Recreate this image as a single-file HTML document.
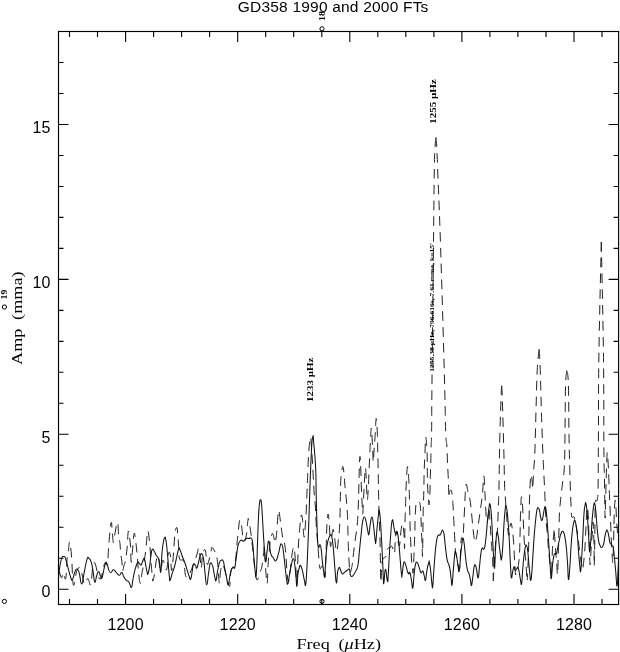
<!DOCTYPE html>
<html><head><meta charset="utf-8"><title>GD358 1990 and 2000 FTs</title>
<style>
html,body{margin:0;padding:0;background:#fff;}
body{width:620px;height:652px;overflow:hidden;font-family:"Liberation Sans",sans-serif;}
svg{display:block;}
.tl{font-family:"Liberation Sans",sans-serif;font-size:16px;fill:#000;letter-spacing:0.15px;}
.ttl{font-family:"Liberation Sans",sans-serif;font-size:15.5px;fill:#000;letter-spacing:0.2px;}
.ser{font-family:"Liberation Serif",serif;fill:#000;}
</style></head><body>
<svg width="620" height="652" viewBox="0 0 620 652">
<rect width="620" height="652" fill="#fff"/>
<!-- frame and ticks -->
<rect x="58.5" y="31.5" width="560.1" height="573.0" fill="none" stroke="#000" stroke-width="1.15"/>
<path d="M69.5,604.5 v-5.5 M69.5,31.5 v5.5 M97.5,604.5 v-5.5 M97.5,31.5 v5.5 M125.6,604.5 v-10.5 M125.6,31.5 v10.5 M153.6,604.5 v-5.5 M153.6,31.5 v5.5 M181.6,604.5 v-5.5 M181.6,31.5 v5.5 M209.6,604.5 v-5.5 M209.6,31.5 v5.5 M237.7,604.5 v-10.5 M237.7,31.5 v10.5 M265.7,604.5 v-5.5 M265.7,31.5 v5.5 M293.7,604.5 v-5.5 M293.7,31.5 v5.5 M321.8,604.5 v-5.5 M321.8,31.5 v5.5 M349.8,604.5 v-10.5 M349.8,31.5 v10.5 M377.8,604.5 v-5.5 M377.8,31.5 v5.5 M405.8,604.5 v-5.5 M405.8,31.5 v5.5 M433.9,604.5 v-5.5 M433.9,31.5 v5.5 M461.9,604.5 v-10.5 M461.9,31.5 v10.5 M489.9,604.5 v-5.5 M489.9,31.5 v5.5 M517.9,604.5 v-5.5 M517.9,31.5 v5.5 M546.0,604.5 v-5.5 M546.0,31.5 v5.5 M574.0,604.5 v-10.5 M574.0,31.5 v10.5 M602.0,604.5 v-5.5 M602.0,31.5 v5.5 M58.5,589.2 h10 M618.6,589.2 h-10 M58.5,558.2 h5 M618.6,558.2 h-5 M58.5,527.2 h5 M618.6,527.2 h-5 M58.5,496.3 h5 M618.6,496.3 h-5 M58.5,465.3 h5 M618.6,465.3 h-5 M58.5,434.3 h10 M618.6,434.3 h-10 M58.5,403.3 h5 M618.6,403.3 h-5 M58.5,372.3 h5 M618.6,372.3 h-5 M58.5,341.4 h5 M618.6,341.4 h-5 M58.5,310.4 h5 M618.6,310.4 h-5 M58.5,279.4 h10 M618.6,279.4 h-10 M58.5,248.4 h5 M618.6,248.4 h-5 M58.5,217.4 h5 M618.6,217.4 h-5 M58.5,186.5 h5 M618.6,186.5 h-5 M58.5,155.5 h5 M618.6,155.5 h-5 M58.5,124.5 h10 M618.6,124.5 h-10 M58.5,93.5 h5 M618.6,93.5 h-5 M58.5,62.5 h5 M618.6,62.5 h-5" stroke="#000" stroke-width="1.1" fill="none"/>
<!-- data: dashed = 2000 FT, solid = 1990 FT -->
<path d="M435.9,137.5 C435.8,139.0 435.5,139.5 435.2,145.0 C434.9,150.5 434.8,144.0 434.4,165.0 C434.0,186.0 433.9,207.0 433.4,250.0 C432.9,293.0 432.4,343.7 432.0,380.0 C431.6,416.3 431.8,418.3 431.6,431.5 C431.4,444.7 431.3,439.9 431.1,446.0 C430.9,452.1 431.0,455.7 430.8,462.0 C430.6,468.3 430.5,471.2 430.3,477.5 C430.1,483.8 430.1,489.1 429.9,493.6 C429.7,498.1 429.7,497.7 429.5,500.0 C429.3,502.3 429.2,505.1 429.0,505.0 C428.8,504.9 428.8,503.7 428.5,499.7 C428.2,495.7 427.8,491.1 427.6,485.0 C427.4,478.9 427.4,475.9 427.3,469.0 C427.2,462.1 427.3,457.1 427.0,450.7 C426.7,444.3 426.1,436.5 425.7,437.0 C425.3,437.5 425.3,446.4 425.0,453.0 C424.7,459.6 424.4,463.4 424.2,470.0 C424.0,476.6 424.0,479.6 423.9,486.0 C423.8,492.4 423.7,496.0 423.5,502.0 C423.3,508.0 423.2,508.4 423.1,516.0 C423.0,523.6 422.9,532.0 422.8,540.0 C422.7,548.0 422.6,554.2 422.5,556.0 C422.4,557.8 422.4,553.4 422.2,549.0 C422.0,544.6 421.9,540.6 421.6,534.0 C421.3,527.4 421.2,521.6 420.9,516.0 C420.6,510.4 420.6,508.7 420.3,506.0 C420.0,503.3 420.3,503.4 419.6,502.5 C418.9,501.6 417.6,500.8 416.8,501.5 C416.0,502.2 416.1,502.3 415.8,506.0 C415.5,509.7 415.3,513.8 415.1,520.0 C414.9,526.2 414.9,530.6 414.7,537.0 C414.5,543.4 414.4,545.0 414.1,552.0 C413.8,559.0 413.5,568.6 413.2,572.0 C412.9,575.4 412.8,571.4 412.5,569.0 C412.2,566.6 411.8,565.2 411.5,560.0 C411.2,554.8 411.1,549.6 410.8,543.0 C410.5,536.4 410.3,534.6 410.1,527.0 C409.9,519.4 409.8,512.4 409.6,505.0 C409.4,497.6 409.4,495.3 409.2,490.0 C409.0,484.7 409.1,483.0 408.7,478.4 C408.3,473.8 407.9,465.1 407.4,466.8 C406.9,468.5 406.5,479.7 406.1,487.0 C405.7,494.3 405.8,496.5 405.6,503.5 C405.4,510.5 405.2,513.1 405.0,522.0 C404.8,530.9 404.8,544.8 404.6,548.0 C404.4,551.2 404.4,542.0 404.2,538.0 C404.0,534.0 403.7,530.8 403.4,528.0 C403.1,525.2 402.9,524.0 402.5,523.8 C402.1,523.6 402.0,525.2 401.6,527.0 C401.2,528.8 401.0,530.4 400.7,533.0 C400.4,535.6 400.5,537.4 400.2,540.0 C399.9,542.6 399.7,546.0 399.2,546.0 C398.7,546.0 398.2,542.2 397.8,540.0 C397.4,537.8 397.5,536.8 397.2,535.0 C396.9,533.2 396.7,530.8 396.4,531.0 C396.1,531.2 395.9,533.2 395.6,536.0 C395.3,538.8 395.2,541.5 395.0,545.0 C394.8,548.5 394.8,552.7 394.4,553.5 C394.0,554.3 393.6,550.5 393.0,549.0 C392.4,547.5 392.1,546.2 391.5,546.0 C390.9,545.8 390.7,547.5 389.9,548.0 C389.1,548.5 388.3,547.6 387.7,548.5 C387.1,549.4 387.2,550.8 386.8,552.5 C386.4,554.2 386.3,555.6 385.5,557.0 C384.7,558.4 383.5,556.9 382.7,559.5 C381.9,562.1 381.9,565.5 381.6,570.0 C381.3,574.5 381.2,580.8 381.0,582.0 C380.8,583.2 380.7,580.4 380.6,576.0 C380.5,571.6 380.5,567.4 380.4,560.0 C380.3,552.6 380.2,547.0 380.0,539.0 C379.8,531.0 379.6,528.0 379.3,520.0 C379.0,512.0 378.9,506.4 378.7,499.0 C378.5,491.6 378.5,489.6 378.4,483.0 C378.3,476.4 378.2,472.6 378.1,466.0 C378.0,459.4 377.8,456.3 377.7,450.0 C377.6,443.7 377.7,440.8 377.4,434.5 C377.1,428.2 376.6,418.5 376.2,418.5 C375.8,418.5 375.6,428.6 375.2,434.5 C374.8,440.4 374.6,442.5 374.2,448.0 C373.8,453.5 373.6,461.2 373.3,462.0 C373.0,462.8 373.0,456.4 372.8,452.0 C372.6,447.6 372.5,444.8 372.2,440.0 C371.9,435.2 371.6,428.0 371.3,428.0 C371.0,428.0 370.9,433.6 370.5,440.0 C370.1,446.4 370.0,450.0 369.5,460.0 C369.0,470.0 368.7,482.0 368.2,490.0 C367.7,498.0 367.5,501.0 367.2,500.0 C366.9,499.0 366.8,491.4 366.5,485.0 C366.2,478.6 365.9,469.0 365.5,468.0 C365.1,467.0 364.9,473.6 364.5,480.0 C364.1,486.4 363.9,493.2 363.5,500.0 C363.1,506.8 363.0,513.0 362.7,514.0 C362.4,515.0 362.5,510.4 362.2,505.2 C361.9,500.0 361.7,495.0 361.4,488.0 C361.1,481.0 361.1,476.3 360.8,470.0 C360.5,463.7 360.3,456.7 360.0,456.4 C359.7,456.1 359.5,463.6 359.3,468.6 C359.1,473.6 359.2,474.2 359.0,481.5 C358.8,488.8 358.6,496.5 358.3,505.0 C358.0,513.5 358.0,516.3 357.3,524.0 C356.6,531.7 355.7,535.8 354.7,543.5 C353.7,551.2 353.1,557.7 352.5,562.6 C351.9,567.5 352.0,566.0 351.5,568.0 C351.0,570.0 350.6,573.2 350.2,572.6 C349.8,572.0 349.6,569.5 349.3,565.0 C349.0,560.5 348.8,556.1 348.5,550.0 C348.2,543.9 348.2,540.7 348.0,534.5 C347.8,528.3 347.9,525.2 347.6,519.0 C347.3,512.8 347.2,509.9 346.7,503.4 C346.2,496.9 345.5,492.3 345.0,486.6 C344.5,480.9 344.5,479.0 344.1,475.0 C343.7,471.0 343.4,466.3 342.8,466.6 C342.2,466.9 341.6,471.5 341.1,476.3 C340.6,481.1 340.8,481.2 340.5,490.5 C340.2,499.8 340.2,513.3 339.8,522.9 C339.4,532.5 339.1,532.7 338.5,538.4 C337.9,544.1 337.4,551.3 336.6,551.3 C335.8,551.3 335.4,542.8 334.7,538.4 C334.0,534.0 333.6,529.1 333.0,529.4 C332.4,529.7 332.0,536.7 331.5,540.0 C331.0,543.3 330.8,548.5 330.4,546.0 C330.0,543.5 329.9,533.8 329.5,527.4 C329.1,521.0 328.7,514.4 328.2,514.0 C327.7,513.6 327.3,519.6 326.9,525.5 C326.5,531.4 326.5,536.6 326.3,543.5 C326.1,550.4 326.1,553.3 325.8,560.0 C325.5,566.7 325.4,574.8 325.0,577.0 C324.6,579.2 324.3,573.2 323.7,571.0 C323.1,568.8 322.8,566.6 322.0,566.0 C321.2,565.4 320.5,570.9 319.8,568.0 C319.1,565.1 318.8,557.1 318.3,551.3 C317.8,545.5 317.8,545.3 317.3,539.0 C316.8,532.7 316.4,526.6 316.0,520.0 C315.6,513.4 315.7,511.9 315.3,506.0 C314.9,500.1 314.4,497.0 314.0,490.5 C313.6,484.0 313.5,480.7 313.1,473.7 C312.7,466.7 312.5,461.4 312.1,455.7 C311.7,450.0 311.6,448.7 311.3,445.0 C311.0,441.3 310.9,436.9 310.5,437.0 C310.1,437.1 309.8,440.4 309.3,445.4 C308.8,450.4 308.5,455.7 308.2,462.1 C307.9,468.5 307.9,471.1 307.6,477.6 C307.3,484.1 307.2,487.9 306.9,494.4 C306.6,500.9 306.6,503.9 306.3,509.9 C306.0,515.9 305.8,518.8 305.4,524.2 C305.0,529.6 304.7,538.1 304.1,537.1 C303.5,536.1 303.0,523.3 302.4,519.0 C301.8,514.7 301.6,514.0 301.1,515.8 C300.6,517.6 300.3,522.4 299.8,528.0 C299.3,533.6 299.1,533.4 298.5,544.0 C297.9,554.6 297.4,577.4 296.8,581.0 C296.2,584.6 296.1,568.7 295.5,562.0 C294.9,555.3 294.7,549.0 294.0,547.4 C293.3,545.8 292.8,549.9 292.1,554.0 C291.4,558.1 291.2,562.6 290.5,568.0 C289.8,573.4 289.4,579.0 288.8,581.0 C288.2,583.0 288.0,580.6 287.6,578.0 C287.2,575.4 287.1,573.0 286.7,568.0 C286.3,563.0 286.3,558.5 285.8,553.0 C285.3,547.5 284.6,543.6 284.0,540.4 C283.4,537.2 283.3,540.7 282.6,537.0 C281.9,533.3 281.1,526.4 280.5,522.0 C279.9,517.6 280.0,517.3 279.6,515.0 C279.2,512.7 279.1,510.0 278.7,510.4 C278.3,510.8 278.2,513.1 277.8,517.0 C277.4,520.9 277.2,526.0 276.9,530.0 C276.6,534.0 276.6,534.4 276.2,537.0 C275.8,539.6 275.4,542.8 275.0,543.0 C274.6,543.2 274.5,539.9 274.0,538.0 C273.5,536.1 273.1,533.7 272.5,533.5 C271.9,533.3 271.7,534.3 271.1,537.0 C270.5,539.7 270.2,541.3 269.6,547.0 C269.0,552.7 268.5,558.4 268.0,565.6 C267.5,572.8 267.6,586.3 266.9,583.0 C266.2,579.7 264.9,555.1 264.3,549.0 C263.7,542.9 264.2,549.0 263.7,552.5 C263.2,556.0 262.6,562.6 261.9,566.5 C261.2,570.4 261.0,569.3 260.0,572.0 C259.0,574.7 258.0,580.6 257.0,580.0 C256.0,579.4 255.7,574.4 254.9,569.1 C254.1,563.8 253.9,559.6 253.2,553.4 C252.5,547.2 252.1,543.2 251.5,538.0 C250.9,532.8 250.6,530.9 250.0,527.2 C249.4,523.5 248.9,520.8 248.5,519.5 C248.1,518.2 248.3,517.6 247.9,520.5 C247.5,523.4 247.2,530.0 246.5,534.1 C245.8,538.2 245.3,540.7 244.5,541.1 C243.7,541.5 243.2,538.7 242.7,535.9 C242.2,533.1 242.3,530.2 241.8,527.2 C241.3,524.2 240.6,522.1 240.1,521.0 C239.6,519.9 239.8,519.1 239.4,521.5 C239.0,523.9 238.6,528.1 238.1,533.0 C237.6,537.9 237.3,540.6 236.8,546.0 C236.3,551.4 236.2,556.0 235.5,560.0 C234.8,564.0 234.4,563.9 233.5,566.0 C232.6,568.1 231.8,566.6 231.0,570.6 C230.2,574.6 230.5,584.3 229.7,586.0 C228.9,587.7 228.4,583.2 227.1,579.0 C225.8,574.8 224.3,566.7 223.0,565.0 C221.7,563.3 221.3,566.9 220.6,570.6 C219.9,574.3 219.9,584.0 219.4,583.5 C218.9,583.0 218.6,573.4 218.1,568.0 C217.6,562.6 217.3,559.6 216.8,556.5 C216.3,553.4 216.5,554.4 215.5,552.6 C214.5,550.8 212.7,547.5 211.8,547.4 C210.9,547.3 211.6,549.5 211.0,552.0 C210.4,554.5 209.8,557.6 209.0,560.0 C208.2,562.4 207.9,566.0 207.1,564.0 C206.3,562.0 206.1,551.8 205.2,550.0 C204.3,548.2 203.4,551.4 202.6,555.0 C201.8,558.6 201.8,567.8 201.3,568.0 C200.8,568.2 200.5,560.0 200.0,556.0 C199.5,552.0 199.3,548.2 198.7,548.0 C198.1,547.8 197.8,551.8 196.8,555.0 C195.8,558.2 195.1,560.0 193.5,564.0 C191.9,568.0 190.4,572.4 189.0,575.0 C187.6,577.6 187.3,577.2 186.5,577.0 C185.7,576.8 185.8,577.2 185.2,574.0 C184.6,570.8 184.6,564.0 183.5,561.0 C182.4,558.0 180.6,561.8 179.6,559.0 C178.6,556.2 179.1,551.9 178.7,547.0 C178.3,542.1 178.2,538.4 177.8,534.5 C177.4,530.6 177.2,527.1 176.6,527.4 C176.0,527.7 175.5,529.3 174.8,535.8 C174.1,542.3 173.6,553.0 173.0,560.0 C172.4,567.0 172.1,571.6 171.6,570.6 C171.1,569.6 170.9,558.3 170.3,555.0 C169.7,551.7 169.2,550.9 168.4,553.9 C167.6,556.9 167.6,568.8 166.5,570.0 C165.4,571.2 164.2,560.0 163.0,560.0 C161.8,560.0 161.6,570.8 160.6,570.0 C159.6,569.2 158.9,557.7 158.0,556.0 C157.1,554.3 156.7,558.4 156.1,561.6 C155.5,564.8 155.4,568.1 154.8,572.0 C154.2,575.9 153.4,580.2 152.9,581.0 C152.4,581.8 152.7,579.8 152.3,576.0 C151.9,572.2 151.5,568.4 151.0,562.0 C150.5,555.6 150.3,550.1 149.7,544.0 C149.1,537.9 148.6,532.9 148.1,531.3 C147.6,529.7 147.6,532.1 147.1,535.8 C146.6,539.5 146.5,544.2 145.8,550.0 C145.1,555.8 144.4,559.8 143.5,565.0 C142.6,570.2 142.1,572.1 141.5,575.8 C140.9,579.5 140.9,583.9 140.3,583.5 C139.7,583.1 139.3,579.1 138.7,574.0 C138.1,568.9 138.0,564.2 137.4,558.0 C136.8,551.8 136.6,547.9 135.9,543.0 C135.2,538.1 134.8,531.6 134.1,533.5 C133.4,535.4 132.9,546.9 132.3,552.6 C131.7,558.3 131.6,563.7 131.2,562.0 C130.8,560.3 130.9,550.2 130.3,544.0 C129.7,537.8 129.0,530.2 128.4,531.0 C127.8,531.8 127.7,541.9 127.1,548.0 C126.5,554.1 125.9,558.0 125.2,561.6 C124.5,565.2 124.3,564.1 123.8,566.0 C123.3,567.9 123.0,571.9 122.6,571.0 C122.2,570.1 122.3,565.3 121.9,561.6 C121.5,557.9 121.0,556.2 120.6,552.6 C120.2,549.0 120.4,546.6 120.0,543.5 C119.6,540.4 119.2,541.3 118.7,537.1 C118.2,532.9 118.3,523.6 117.6,522.4 C116.9,521.2 116.2,527.0 115.4,531.0 C114.6,535.0 114.1,542.3 113.5,542.5 C112.9,542.7 112.8,536.0 112.3,532.0 C111.8,528.0 111.8,521.4 111.2,522.4 C110.6,523.4 110.1,530.8 109.5,536.8 C108.9,542.8 108.7,546.7 108.3,552.3 C107.9,557.9 108.3,562.9 107.6,565.0 C106.9,567.1 105.9,561.6 105.0,562.6 C104.1,563.6 103.9,566.7 103.0,570.0 C102.1,573.3 101.5,578.0 100.5,579.0 C99.5,580.0 99.0,577.8 98.0,575.0 C97.0,572.2 96.5,567.7 95.7,565.2 C94.9,562.7 94.8,562.7 94.2,562.7 C93.6,562.7 93.3,562.4 92.8,565.2 C92.3,568.0 92.3,572.8 91.8,576.8 C91.3,580.8 91.0,584.2 90.4,585.0 C89.8,585.8 89.5,582.0 88.9,580.7 C88.3,579.4 88.4,578.0 87.5,578.7 C86.6,579.4 85.6,584.4 84.6,584.0 C83.6,583.6 83.5,580.0 82.6,576.8 C81.7,573.6 81.4,569.2 80.2,568.0 C79.0,566.8 78.2,567.6 76.8,571.0 C75.4,574.4 74.5,588.0 73.4,585.0 C72.3,582.0 72.3,564.6 71.5,556.0 C70.7,547.4 70.3,542.0 69.6,541.9 C68.9,541.8 68.6,552.0 68.1,555.5 C67.6,559.0 67.6,554.8 67.1,559.4 C66.6,564.0 66.5,576.0 65.7,578.7 C64.9,581.4 64.1,573.1 63.3,572.9 C62.5,572.7 62.4,577.4 61.8,577.8 C61.2,578.2 60.9,576.8 60.3,575.0 C59.7,573.2 59.2,570.2 58.9,569.0" fill="none" stroke="#222" stroke-width="1" stroke-dasharray="9.6 6.2" stroke-linejoin="round"/>
<path d="M435.9,137.5 C436.0,139.0 436.3,139.5 436.6,145.0 C436.9,150.5 436.7,144.0 437.5,165.0 C438.3,186.0 439.3,207.0 440.7,250.0 C442.1,293.0 443.5,343.6 444.5,380.0 C445.5,416.4 445.2,418.8 445.7,432.0 C446.2,445.2 446.5,439.8 446.9,446.0 C447.3,452.2 447.2,456.5 447.5,463.0 C447.8,469.5 448.0,471.5 448.3,478.3 C448.6,485.1 448.6,494.5 448.9,497.0 C449.2,499.5 449.3,492.2 449.8,491.0 C450.3,489.8 451.0,489.8 451.5,491.0 C452.0,492.2 452.0,494.2 452.3,497.0 C452.6,499.8 452.7,500.3 453.0,505.0 C453.3,509.7 453.5,514.3 453.8,520.4 C454.1,526.5 454.3,529.7 454.6,535.6 C454.9,541.5 455.1,546.1 455.4,550.0 C455.7,553.9 455.9,552.8 456.3,555.0 C456.7,557.2 457.0,558.6 457.5,561.0 C458.0,563.4 458.2,565.4 458.6,567.0 C459.0,568.6 459.1,569.6 459.4,569.0 C459.7,568.4 459.8,567.2 460.0,564.0 C460.2,560.8 460.3,557.2 460.5,553.0 C460.7,548.8 460.7,546.1 460.9,543.0 C461.1,539.9 461.4,538.1 461.7,537.5 C462.0,536.9 462.3,540.3 462.6,540.0 C462.9,539.7 463.0,539.2 463.2,536.0 C463.4,532.8 463.5,530.6 463.8,524.0 C464.1,517.4 464.5,509.8 464.8,503.0 C465.1,496.2 465.2,493.8 465.5,490.0 C465.8,486.2 465.8,483.6 466.3,484.0 C466.8,484.4 467.3,489.1 468.0,492.0 C468.7,494.9 469.1,494.2 469.8,498.4 C470.5,502.6 470.8,506.4 471.5,512.8 C472.2,519.2 472.5,524.8 473.2,530.5 C473.9,536.2 474.2,540.1 474.9,541.5 C475.6,542.9 475.8,540.5 476.5,537.3 C477.2,534.1 477.4,531.0 478.2,525.4 C479.0,519.8 479.6,515.5 480.4,509.4 C481.2,503.3 481.7,501.7 482.4,495.0 C483.1,488.3 483.3,477.0 483.8,476.0 C484.3,475.0 484.5,484.4 484.8,490.0 C485.1,495.6 485.1,497.6 485.5,504.0 C485.9,510.4 486.1,519.6 486.7,522.0 C487.3,524.4 487.9,518.5 488.4,516.0 C488.9,513.5 488.7,505.5 489.2,509.4 C489.7,513.3 490.3,527.5 490.9,535.6 C491.5,543.7 491.6,544.5 492.0,550.0 C492.4,555.5 492.5,556.8 492.8,563.0 C493.1,569.2 493.2,577.4 493.3,581.0" fill="none" stroke="#222" stroke-width="1" stroke-dasharray="9.6 6.2" stroke-linejoin="round"/>
<path d="M501.8,386.0 C501.7,387.2 501.7,382.3 501.3,392.0 C500.9,401.7 500.4,415.6 499.9,434.4 C499.4,453.2 499.3,472.3 499.0,486.0 C498.7,499.7 498.8,493.8 498.5,503.0 C498.2,512.2 497.7,525.9 497.3,532.2 C496.9,538.5 496.7,531.1 496.3,534.7 C495.9,538.3 495.5,544.3 495.1,550.0 C494.7,555.7 494.6,557.2 494.2,563.4 C493.8,569.6 493.5,577.5 493.3,581.0" fill="none" stroke="#222" stroke-width="1" stroke-dasharray="9.6 6.2" stroke-linejoin="round"/>
<path d="M501.8,386.0 C501.9,388.6 501.9,387.0 502.3,399.0 C502.7,411.0 503.2,428.6 503.7,446.0 C504.2,463.4 504.3,476.0 504.6,486.0 C504.9,496.0 504.8,490.5 505.2,496.0 C505.6,501.5 506.0,507.0 506.5,513.6 C507.0,520.2 507.2,524.5 507.7,528.8 C508.2,533.1 508.4,536.0 509.0,535.0 C509.6,534.0 509.9,525.7 510.5,524.0 C511.1,522.3 511.3,522.6 511.9,526.3 C512.5,530.0 513.1,535.7 513.6,542.3 C514.1,548.9 514.1,552.9 514.5,559.2 C514.9,565.5 515.1,571.4 515.5,574.0 C515.9,576.6 516.0,572.9 516.5,572.0 C517.0,571.1 517.2,572.9 517.8,569.3 C518.4,565.7 519.1,560.6 519.5,554.0 C519.9,547.4 519.8,543.6 520.0,536.4 C520.2,529.2 520.2,524.7 520.4,517.8 C520.6,510.9 520.8,506.0 521.0,501.8 C521.2,497.6 521.3,496.9 521.5,496.7 C521.7,496.5 521.9,497.9 522.2,501.0 C522.5,504.1 522.6,505.8 522.9,512.0 C523.2,518.2 523.4,524.4 523.8,532.0 C524.2,539.6 524.4,544.4 524.8,550.0 C525.2,555.6 525.3,555.0 525.7,560.0 C526.1,565.0 526.4,571.0 526.7,575.0 C527.0,579.0 527.2,579.0 527.3,580.0" fill="none" stroke="#222" stroke-width="1" stroke-dasharray="9.6 6.2" stroke-linejoin="round"/>
<path d="M539.1,349.4 C538.7,353.7 537.8,358.4 537.2,370.7 C536.6,383.0 536.5,394.3 536.0,410.8 C535.5,427.3 535.3,441.5 534.8,453.3 C534.3,465.1 534.0,464.7 533.7,470.0 C533.4,475.3 533.4,476.2 533.2,480.0 C533.0,483.8 533.0,488.6 532.8,489.0 C532.6,489.4 532.5,484.8 532.2,482.0 C531.9,479.2 531.6,475.2 531.2,475.0 C530.8,474.8 530.6,476.0 530.3,481.0 C530.0,486.0 529.8,491.0 529.5,500.0 C529.2,509.0 529.2,516.4 529.0,526.0 C528.8,535.6 528.8,540.2 528.6,548.0 C528.4,555.8 528.3,558.6 528.0,565.0 C527.7,571.4 527.4,577.0 527.3,580.0" fill="none" stroke="#222" stroke-width="1" stroke-dasharray="9.6 6.2" stroke-linejoin="round"/>
<path d="M539.1,349.4 C539.3,352.2 539.5,351.3 540.0,363.6 C540.5,375.9 540.8,391.9 541.4,410.8 C542.0,429.7 542.4,442.0 543.1,458.0 C543.8,474.0 544.2,479.5 544.7,491.0 C545.2,502.5 545.2,506.6 545.7,515.3 C546.2,524.0 546.9,528.6 547.4,534.7 C547.9,540.8 547.7,540.1 548.2,545.7 C548.7,551.3 549.2,556.9 549.9,562.6 C550.6,568.3 551.3,572.0 551.6,574.4" fill="none" stroke="#222" stroke-width="1" stroke-dasharray="9.6 6.2" stroke-linejoin="round"/>
<path d="M566.7,370.7 C566.5,374.0 565.8,374.3 565.5,387.0 C565.2,399.7 565.2,418.3 565.0,434.4 C564.8,450.5 564.8,458.0 564.3,467.4 C563.8,476.8 563.4,475.7 562.7,481.6 C562.0,487.5 561.5,490.8 560.9,497.0 C560.3,503.2 559.9,505.6 559.5,512.8 C559.1,520.0 559.1,525.2 558.9,533.0 C558.7,540.8 558.7,543.3 558.4,551.6 C558.1,559.9 557.8,572.4 557.5,574.4 C557.2,576.4 557.0,565.9 556.7,561.7 C556.4,557.5 556.1,557.3 555.8,553.3 C555.5,549.3 555.3,546.4 555.0,541.5 C554.7,536.6 554.3,530.3 554.1,528.8 C553.9,527.3 554.1,529.5 553.8,533.9 C553.5,538.3 552.8,542.7 552.4,550.8 C552.0,558.9 551.8,569.7 551.6,574.4" fill="none" stroke="#222" stroke-width="1" stroke-dasharray="9.6 6.2" stroke-linejoin="round"/>
<path d="M566.7,370.7 C567.0,373.1 567.8,369.8 568.3,382.5 C568.8,395.2 568.7,416.9 569.0,434.4 C569.3,451.9 569.4,455.9 569.8,470.0 C570.2,484.1 570.6,495.6 571.0,505.0 C571.4,514.4 571.2,514.4 571.9,517.0 C572.6,519.6 573.2,514.2 574.4,517.9 C575.6,521.6 576.8,529.0 577.8,535.6 C578.8,542.2 578.8,545.4 579.5,550.8 C580.2,556.2 580.5,559.2 581.2,562.6 C581.9,566.0 582.6,566.9 583.0,568.0" fill="none" stroke="#222" stroke-width="1" stroke-dasharray="9.6 6.2" stroke-linejoin="round"/>
<path d="M601.3,242.0 C600.8,264.6 599.5,315.4 598.9,355.0 C598.3,394.6 598.6,414.0 598.4,440.0 C598.2,466.0 598.3,473.0 598.1,485.0 C597.9,497.0 597.8,496.2 597.2,500.0 C596.6,503.8 595.8,496.0 595.3,504.0 C594.8,512.0 595.0,527.6 594.8,540.0 C594.6,552.4 594.3,564.4 594.2,566.0 C594.1,567.6 594.2,554.2 594.1,548.0 C594.0,541.8 593.9,540.2 593.7,535.0 C593.5,529.8 593.3,522.4 593.0,522.0 C592.7,521.6 592.6,528.4 592.3,533.0 C592.0,537.6 591.7,538.7 591.3,545.0 C590.9,551.3 590.5,562.3 590.2,564.3 C589.9,566.3 589.9,561.6 589.6,555.0 C589.3,548.4 589.1,540.0 588.8,531.4 C588.5,522.8 588.4,516.7 588.0,512.0 C587.6,507.3 587.4,506.0 587.0,508.0 C586.6,510.0 586.5,515.8 586.2,522.0 C585.9,528.2 585.7,532.6 585.4,539.0 C585.1,545.4 585.0,548.2 584.5,554.0 C584.0,559.8 583.3,565.2 583.0,568.0" fill="none" stroke="#222" stroke-width="1" stroke-dasharray="9.6 6.2" stroke-linejoin="round"/>
<path d="M601.3,242.0 C601.7,265.1 603.0,316.3 603.5,357.5 C604.0,398.7 603.7,423.3 603.9,448.0 C604.1,472.7 604.3,469.6 604.5,481.0 C604.7,492.4 604.7,497.6 604.8,505.0 C604.9,512.4 605.0,519.0 605.2,518.0 C605.4,517.0 605.4,506.6 605.6,500.0 C605.8,493.4 605.8,491.0 606.0,485.0 C606.2,479.0 606.3,476.4 606.5,470.0 C606.7,463.6 606.9,454.7 607.2,452.9 C607.5,451.1 607.7,456.1 608.0,461.0 C608.3,465.9 608.5,470.9 608.8,477.4 C609.1,483.9 609.1,486.9 609.4,493.4 C609.7,499.9 609.8,503.7 610.1,510.0 C610.4,516.3 610.4,518.9 610.7,525.0 C611.0,531.1 611.1,534.4 611.4,540.6 C611.7,546.8 611.9,551.7 612.2,556.0 C612.5,560.3 612.6,564.2 612.9,562.0 C613.2,559.8 613.2,554.2 613.5,545.0 C613.8,535.8 613.9,524.8 614.2,516.0 C614.5,507.2 614.7,503.2 615.0,501.0 C615.3,498.8 615.5,501.4 615.8,505.0 C616.1,508.6 616.2,513.6 616.5,519.0 C616.8,524.4 617.1,527.8 617.5,532.0 C617.9,536.2 618.1,538.4 618.3,540.0" fill="none" stroke="#222" stroke-width="1" stroke-dasharray="9.6 6.2" stroke-linejoin="round"/>
<path d="M58.4,578.7 C59.0,574.1 59.3,567.2 60.8,561.3 C62.3,555.4 62.7,556.2 64.2,556.5 C65.7,556.8 64.9,556.9 66.6,562.3 C68.3,567.7 68.9,572.3 70.5,576.8 C72.1,581.3 71.3,580.5 72.5,579.2 C73.7,577.9 73.8,574.7 74.9,572.0 C76.0,569.3 75.7,568.8 76.8,569.0 C77.9,569.2 77.9,568.9 79.2,572.9 C80.5,576.9 80.4,584.0 81.7,584.0 C83.0,584.0 82.7,579.5 84.1,572.9 C85.5,566.3 85.7,563.3 87.0,559.4 C88.3,555.5 87.8,557.6 88.9,558.4 C90.0,559.2 90.1,558.4 91.3,562.3 C92.5,566.2 92.4,567.6 93.3,572.9 C94.2,578.2 93.8,581.3 94.7,582.1 C95.6,582.9 95.7,578.6 96.7,575.8 C97.7,573.0 97.6,571.5 98.6,571.5 C99.6,571.5 99.6,574.1 100.5,575.8 C101.4,577.5 101.1,579.5 102.0,577.8 C102.9,576.1 102.9,573.4 103.9,569.4 C104.9,565.4 104.9,564.3 105.8,562.9 C106.7,561.5 106.2,562.1 107.1,564.2 C108.0,566.3 108.0,568.4 109.0,570.6 C110.0,572.8 110.0,572.8 111.0,572.6 C112.0,572.4 111.9,570.5 112.9,570.0 C113.9,569.5 113.8,569.7 114.8,570.6 C115.8,571.5 115.6,572.0 116.8,573.2 C118.0,574.4 118.0,575.4 119.4,575.2 C120.8,575.0 120.7,572.1 121.9,572.6 C123.1,573.1 122.7,575.0 123.9,577.1 C125.1,579.2 125.1,578.9 126.5,580.3 C127.9,581.7 127.7,580.4 129.0,582.3 C130.3,584.2 130.4,588.1 131.4,587.4 C132.4,586.7 132.0,584.2 132.9,579.7 C133.8,575.2 133.6,575.1 134.8,570.6 C136.0,566.1 136.2,564.8 137.4,562.9 C138.6,561.0 138.4,563.0 139.4,563.5 C140.4,564.0 140.3,565.8 141.3,564.8 C142.3,563.8 142.3,561.2 143.2,559.7 C144.1,558.2 143.8,557.5 144.5,559.0 C145.2,560.5 145.1,562.1 145.8,565.5 C146.5,568.9 146.5,569.7 147.1,571.9 C147.7,574.1 147.3,575.6 148.0,573.9 C148.7,572.2 148.9,570.5 149.7,565.5 C150.5,560.5 150.3,559.5 151.0,555.2 C151.7,550.9 151.4,550.4 152.3,549.4 C153.2,548.4 153.2,549.8 154.2,551.3 C155.2,552.8 155.1,553.5 156.1,555.2 C157.1,556.9 157.2,556.0 158.1,557.7 C159.0,559.4 158.7,557.8 159.4,561.6 C160.1,565.4 160.1,574.1 160.8,572.0 C161.5,569.9 161.3,561.5 161.9,553.9 C162.5,546.3 162.5,547.8 163.2,543.5 C163.9,539.2 163.8,538.7 164.5,537.7 C165.2,536.7 165.1,536.4 165.8,539.7 C166.5,543.0 166.4,543.1 167.1,550.0 C167.8,556.9 167.8,558.3 168.4,565.5 C169.0,572.7 168.9,573.1 169.4,577.0 C169.9,580.9 169.3,581.3 170.1,580.3 C170.9,579.3 171.0,577.1 172.3,573.2 C173.6,569.3 173.6,570.0 174.8,565.5 C176.0,561.0 175.8,561.0 176.8,556.5 C177.8,552.0 177.8,550.4 178.7,548.7 C179.6,547.0 179.1,548.3 180.0,550.0 C180.9,551.7 180.9,552.5 181.9,555.2 C182.9,557.9 182.9,557.6 183.9,560.3 C184.9,563.0 184.8,562.4 185.8,565.5 C186.8,568.6 186.8,569.2 187.7,571.9 C188.6,574.6 188.2,573.9 189.0,575.8 C189.8,577.7 189.8,580.4 190.7,579.0 C191.6,577.6 191.6,574.5 192.3,570.6 C193.0,566.7 192.6,565.6 193.5,564.2 C194.4,562.8 194.6,564.5 195.5,565.5 C196.4,566.5 195.9,569.1 196.8,568.1 C197.7,567.1 197.7,565.2 198.7,561.6 C199.7,558.0 199.6,556.2 200.6,554.5 C201.6,552.8 201.7,553.3 202.6,555.2 C203.5,557.1 203.2,556.5 203.9,561.6 C204.6,566.7 204.5,568.3 205.2,574.5 C205.9,580.7 205.8,584.8 206.7,584.8 C207.6,584.8 207.6,579.6 208.4,574.5 C209.2,569.4 209.0,568.6 209.7,565.5 C210.4,562.4 210.1,562.6 211.0,562.9 C211.9,563.2 211.9,563.0 212.9,566.8 C213.9,570.6 213.9,573.5 214.8,577.1 C215.7,580.7 215.4,581.7 216.1,580.3 C216.8,578.9 216.5,576.5 217.4,571.9 C218.3,567.3 218.4,566.0 219.4,562.9 C220.4,559.8 220.3,560.8 221.3,560.3 C222.3,559.8 222.3,559.3 223.2,561.0 C224.1,562.7 223.6,562.5 224.5,566.8 C225.4,571.1 225.5,572.4 226.5,577.1 C227.5,581.8 227.3,585.7 228.4,584.5 C229.5,583.3 229.2,577.2 230.5,572.6 C231.8,568.0 232.0,568.7 233.1,567.3 C234.2,565.9 233.9,570.6 234.8,567.3 C235.7,564.0 235.7,561.2 236.6,555.1 C237.5,549.0 237.1,548.5 238.3,544.6 C239.5,540.7 239.6,541.2 241.0,540.3 C242.4,539.4 242.2,541.6 243.6,541.1 C245.0,540.6 244.8,539.2 246.2,538.5 C247.6,537.8 247.4,538.5 248.8,538.5 C250.2,538.5 250.3,536.9 251.4,538.5 C252.5,540.1 252.1,538.8 252.8,544.6 C253.5,550.4 253.4,552.8 254.1,560.3 C254.8,567.8 254.8,568.4 255.3,572.6 C255.8,576.8 255.6,578.0 256.0,576.0 C256.4,574.0 256.4,574.6 256.8,565.0 C257.2,555.4 257.1,553.3 257.6,540.0 C258.1,526.7 258.1,524.9 258.6,515.0 C259.1,505.1 259.1,507.0 259.6,503.0 C260.1,499.0 260.0,500.0 260.5,500.0 C261.0,500.0 260.9,499.0 261.4,503.0 C261.9,507.0 261.8,507.2 262.3,515.0 C262.8,522.8 262.7,523.1 263.3,532.4 C263.9,541.7 263.8,542.0 264.5,549.9 C265.2,557.8 265.1,562.1 265.8,562.1 C266.5,562.1 266.4,555.5 267.2,549.9 C268.0,544.3 268.0,540.2 268.9,541.1 C269.8,542.0 269.5,549.0 270.7,553.4 C271.9,557.8 271.9,555.8 273.3,557.7 C274.7,559.6 274.5,561.8 275.9,560.7 C277.3,559.6 277.3,557.5 278.5,553.4 C279.7,549.3 279.5,547.9 280.3,545.5 C281.1,543.1 280.8,543.6 281.5,544.3 C282.2,545.0 282.1,543.4 282.9,548.1 C283.7,552.8 283.7,554.2 284.6,562.1 C285.5,570.0 285.5,572.0 286.4,577.8 C287.3,583.6 287.0,584.9 287.8,584.0 C288.6,583.1 288.5,579.8 289.5,574.5 C290.5,569.2 290.5,568.5 291.5,564.2 C292.5,559.9 292.5,558.4 293.4,558.4 C294.3,558.4 294.0,559.2 294.7,564.2 C295.4,569.2 295.4,571.3 296.0,577.1 C296.6,582.9 296.4,586.8 296.9,586.1 C297.4,585.4 297.3,579.3 297.9,574.5 C298.5,569.7 298.5,570.5 299.2,568.1 C299.9,565.7 299.6,564.8 300.5,565.5 C301.4,566.2 301.4,566.7 302.4,570.6 C303.4,574.5 303.5,576.5 304.4,580.3 C305.3,584.1 305.0,587.0 305.6,584.8 C306.2,582.6 306.2,579.8 306.7,571.9 C307.2,564.0 307.1,564.8 307.5,555.2 C307.9,545.6 307.8,547.9 308.3,535.8 C308.8,523.7 308.7,525.4 309.2,510.0 C309.7,494.6 309.6,495.1 310.3,478.0 C311.0,460.9 311.0,457.0 311.7,446.0 C312.4,435.0 312.4,438.0 312.9,436.8 C313.4,435.6 312.9,433.4 313.6,441.5 C314.3,449.6 314.9,452.7 315.6,467.0 C316.3,481.3 315.9,482.2 316.2,495.0 C316.5,507.8 316.4,504.1 316.7,515.0 C317.0,525.9 317.0,527.2 317.4,535.8 C317.8,544.4 317.7,545.0 318.3,547.4 C318.9,549.8 319.1,544.5 319.8,544.8 C320.5,545.1 320.4,544.2 321.1,548.7 C321.8,553.2 321.7,555.4 322.4,561.6 C323.1,567.8 323.1,567.8 323.7,571.9 C324.3,576.0 324.3,578.1 324.7,577.1 C325.1,576.1 324.9,574.6 325.3,568.1 C325.7,561.6 325.7,559.5 326.3,552.6 C326.9,545.7 326.7,546.6 327.6,542.3 C328.5,538.0 328.5,538.4 329.5,536.5 C330.5,534.6 330.4,534.0 331.2,535.2 C332.0,536.4 331.8,536.0 332.5,541.0 C333.2,546.0 333.1,546.0 333.8,553.9 C334.5,561.8 334.4,562.9 335.1,570.6 C335.8,578.3 335.7,582.6 336.4,582.9 C337.1,583.2 336.9,576.0 337.6,571.9 C338.3,567.8 338.4,567.7 339.2,567.4 C340.0,567.1 339.8,568.9 340.7,570.6 C341.6,572.3 341.3,573.6 342.4,573.9 C343.5,574.2 343.6,572.9 345.0,571.9 C346.4,570.9 346.4,570.7 347.6,570.0 C348.8,569.3 348.8,568.2 349.5,569.4 C350.2,570.6 349.7,572.6 350.2,574.5 C350.7,576.4 350.6,576.3 351.5,576.5 C352.4,576.7 352.2,576.8 353.4,575.2 C354.6,573.6 354.8,573.2 356.0,570.6 C357.2,568.0 357.0,570.4 357.9,565.5 C358.8,560.6 358.5,560.4 359.3,552.4 C360.1,544.4 360.1,543.9 361.0,535.6 C361.9,527.3 361.8,526.2 362.7,521.2 C363.6,516.2 363.4,517.0 364.3,517.0 C365.2,517.0 365.1,517.6 366.0,521.2 C366.9,524.8 366.9,527.0 367.7,530.5 C368.5,534.0 368.2,536.0 368.9,534.2 C369.6,532.4 369.5,528.4 370.3,523.8 C371.1,519.2 371.1,517.0 371.9,517.0 C372.7,517.0 372.5,518.0 373.3,523.8 C374.1,529.6 374.3,534.0 375.0,538.9 C375.7,543.8 375.3,545.0 375.8,542.3 C376.3,539.6 376.3,536.0 377.0,528.8 C377.7,521.6 377.8,520.2 378.4,515.3 C379.0,510.4 378.7,508.9 379.2,510.3 C379.7,511.7 379.8,512.3 380.4,520.4 C381.0,528.5 381.0,529.8 381.6,540.6 C382.2,551.4 382.1,551.0 382.6,560.9 C383.1,570.8 383.0,572.0 383.3,577.8 C383.6,583.6 383.3,585.1 383.9,582.8 C384.5,580.5 384.5,569.8 385.4,569.3 C386.3,568.8 386.7,579.6 387.4,581.1 C388.1,582.6 387.7,581.3 388.2,575.0 C388.7,568.7 388.6,567.6 389.2,557.5 C389.8,547.4 389.7,547.2 390.5,537.3 C391.3,527.4 391.3,523.1 392.2,520.4 C393.1,517.7 393.0,523.5 393.9,527.1 C394.8,530.7 394.7,532.5 395.6,533.9 C396.5,535.3 396.4,529.5 397.3,532.2 C398.2,534.9 398.1,536.3 398.9,544.0 C399.7,551.7 399.6,552.8 400.3,560.9 C401.0,569.0 401.0,570.6 401.5,574.4 C402.0,578.2 401.5,577.6 402.0,575.3 C402.5,573.0 402.6,569.5 403.2,565.9 C403.8,562.3 403.6,561.7 404.3,561.7 C405.0,561.7 405.0,562.8 406.0,565.9 C407.0,569.0 407.2,571.7 408.2,573.5 C409.2,575.3 409.0,570.7 409.9,572.7 C410.8,574.7 410.8,577.0 411.6,581.1 C412.4,585.2 412.1,589.7 412.8,587.9 C413.5,586.1 413.4,580.7 414.1,574.4 C414.8,568.1 414.7,567.4 415.5,564.3 C416.3,561.2 416.2,561.7 417.2,562.6 C418.2,563.5 418.2,564.9 419.2,567.6 C420.2,570.3 419.9,571.8 420.9,572.7 C421.9,573.6 422.0,570.1 422.9,571.0 C423.8,571.9 423.6,573.7 424.3,576.1 C425.0,578.5 424.9,581.8 425.6,580.0 C426.3,578.2 426.2,573.9 427.1,569.3 C428.0,564.7 428.2,564.6 428.8,562.6 C429.4,560.6 428.8,560.1 429.3,561.9 C429.8,563.7 429.8,563.7 430.5,569.3 C431.2,574.9 431.2,578.2 431.8,582.8 C432.4,587.4 432.2,589.6 432.7,586.5 C433.2,583.4 433.1,580.1 433.8,571.0 C434.5,561.9 434.4,561.0 435.2,552.4 C436.0,543.8 436.0,543.5 436.9,538.9 C437.8,534.3 437.7,536.3 438.6,535.2 C439.5,534.1 439.4,535.9 440.3,534.7 C441.2,533.5 441.3,531.9 441.9,530.8 C442.5,529.7 441.9,529.7 442.5,530.5 C443.1,531.3 443.3,529.8 444.0,533.9 C444.7,538.0 444.5,539.0 445.3,545.7 C446.1,552.4 446.1,554.2 447.0,559.2 C447.9,564.2 447.9,561.6 448.7,564.3 C449.5,567.0 449.3,565.2 450.0,569.3 C450.7,573.4 450.6,575.4 451.2,579.5 C451.8,583.6 451.5,587.2 452.1,584.5 C452.7,581.8 452.7,577.0 453.4,569.3 C454.1,561.6 454.1,560.5 454.6,555.8 C455.1,551.1 454.8,551.1 455.4,551.6 C456.0,552.1 456.1,553.7 456.8,557.5 C457.5,561.3 457.4,562.4 458.0,566.0 C458.6,569.6 458.5,573.3 459.2,571.0 C459.9,568.7 459.8,564.7 460.5,557.5 C461.2,550.3 461.2,549.2 461.9,544.0 C462.6,538.8 462.4,538.1 463.0,538.1 C463.6,538.1 463.5,538.8 464.2,544.0 C464.9,549.2 464.8,550.8 465.6,557.5 C466.4,564.2 466.3,564.8 467.3,569.3 C468.3,573.8 468.4,571.3 469.3,574.4 C470.2,577.5 470.0,578.2 470.6,581.1 C471.2,584.0 470.9,586.3 471.5,585.4 C472.1,584.5 472.0,582.5 472.7,577.8 C473.4,573.1 473.3,571.0 474.0,567.6 C474.7,564.2 474.7,564.4 475.4,565.1 C476.1,565.8 476.0,566.8 476.7,570.2 C477.4,573.6 477.5,578.5 478.2,577.8 C478.9,577.1 478.7,573.9 479.4,567.6 C480.1,561.3 480.1,559.3 480.8,554.1 C481.5,548.9 481.3,549.5 482.1,548.2 C482.9,546.9 483.0,549.8 483.8,549.1 C484.6,548.4 484.4,549.3 485.0,545.7 C485.6,542.1 485.5,542.3 486.2,535.6 C486.9,528.9 486.8,527.6 487.5,520.4 C488.2,513.2 488.2,512.9 488.9,508.6 C489.6,504.3 489.3,502.5 490.0,504.3 C490.7,506.1 490.7,506.5 491.4,515.3 C492.1,524.1 491.9,526.0 492.5,537.3 C493.1,548.6 493.1,549.4 493.7,557.5 C494.3,565.6 494.1,570.3 494.6,567.6 C495.1,564.9 495.0,556.6 495.6,547.4 C496.2,538.2 496.1,536.1 496.8,533.0 C497.5,529.9 497.4,532.2 498.1,535.6 C498.8,539.0 498.6,540.3 499.3,545.7 C500.0,551.1 500.0,552.2 500.6,555.8 C501.2,559.4 500.9,561.4 501.5,559.2 C502.1,557.0 502.0,556.8 502.7,547.4 C503.4,538.0 503.3,533.9 504.0,523.8 C504.7,513.7 504.7,514.1 505.2,509.4 C505.7,504.7 505.5,505.3 506.0,506.0 C506.5,506.7 506.5,505.8 507.2,511.9 C507.9,518.0 507.9,518.9 508.6,528.8 C509.3,538.7 509.2,538.8 509.7,549.1 C510.2,559.4 510.1,559.9 510.6,567.6 C511.1,575.3 510.8,576.9 511.4,577.8 C512.0,578.7 512.1,573.9 512.8,571.0 C513.5,568.1 513.4,567.0 514.1,566.8 C514.8,566.6 514.6,569.7 515.3,570.2 C516.0,570.7 516.0,569.2 516.7,568.5 C517.4,567.8 517.2,566.9 517.8,567.6 C518.4,568.3 518.3,567.8 519.0,571.0 C519.7,574.2 519.7,576.1 520.4,579.5 C521.1,582.9 521.0,586.0 521.6,583.7 C522.2,581.4 522.0,578.0 522.6,571.0 C523.2,564.0 523.1,563.6 523.8,557.5 C524.5,551.4 524.4,551.6 525.1,548.2 C525.8,544.8 525.7,544.7 526.3,544.9 C526.9,545.1 526.9,545.3 527.5,549.1 C528.1,552.9 527.9,552.9 528.5,559.2 C529.1,565.5 529.1,567.1 529.7,572.7 C530.3,578.3 530.2,580.8 530.8,580.3 C531.4,579.8 531.3,578.0 531.9,571.0 C532.5,564.0 532.4,563.5 533.0,554.1 C533.6,544.7 533.5,544.6 534.2,535.6 C534.9,526.6 534.9,527.1 535.6,520.4 C536.3,513.7 536.2,513.7 536.9,510.3 C537.6,506.9 537.4,507.7 538.1,507.7 C538.8,507.7 538.8,507.8 539.5,510.3 C540.2,512.8 539.9,514.3 540.6,517.0 C541.3,519.7 541.3,520.9 542.0,520.4 C542.7,519.9 542.6,518.2 543.2,515.3 C543.8,512.4 543.7,511.6 544.3,509.4 C544.9,507.2 544.8,505.8 545.4,506.9 C546.0,508.0 545.9,507.8 546.5,513.6 C547.1,519.4 547.0,519.3 547.7,528.8 C548.4,538.3 548.4,538.8 549.1,549.1 C549.8,559.4 549.7,559.7 550.3,567.6 C550.9,575.5 550.7,579.0 551.3,578.6 C551.9,578.2 551.7,572.1 552.4,566.0 C553.1,559.9 553.1,559.2 553.8,555.8 C554.5,552.4 554.4,553.8 555.0,553.3 C555.6,552.8 555.5,555.2 556.2,554.1 C556.9,553.0 556.7,552.7 557.5,549.1 C558.3,545.5 558.3,544.7 559.2,540.6 C560.1,536.5 559.9,536.4 560.9,533.9 C561.9,531.4 561.9,530.9 562.9,531.4 C563.9,531.9 563.7,531.3 564.6,535.6 C565.5,539.9 565.5,539.7 566.3,547.4 C567.1,555.1 567.0,555.7 567.6,564.3 C568.2,572.9 567.9,579.0 568.5,579.5 C569.1,580.0 569.2,574.6 569.9,566.0 C570.6,557.4 570.3,556.9 571.0,547.4 C571.7,537.9 571.6,537.2 572.4,530.5 C573.2,523.8 573.2,524.8 573.9,522.1 C574.6,519.4 574.3,519.5 574.9,520.4 C575.5,521.3 575.4,521.0 576.1,525.5 C576.8,530.0 576.8,530.1 577.5,537.3 C578.2,544.5 578.0,544.8 578.6,552.5 C579.2,560.2 579.2,561.1 579.8,566.0 C580.4,570.9 580.2,573.3 580.7,571.0 C581.2,568.7 581.1,566.9 581.7,557.5 C582.3,548.1 582.3,547.3 582.9,535.6 C583.5,523.9 583.4,521.7 584.0,513.6 C584.6,505.5 584.6,507.9 585.1,505.2 C585.6,502.5 585.4,501.7 585.9,503.5 C586.4,505.3 586.5,504.7 587.1,511.9 C587.7,519.1 587.7,521.0 588.3,530.5 C588.9,540.0 588.9,542.0 589.3,547.4 C589.7,552.8 589.5,552.6 589.9,550.8 C590.3,549.0 590.2,548.7 590.8,540.6 C591.4,532.5 591.4,529.4 592.1,520.4 C592.8,511.4 592.8,511.4 593.5,506.9 C594.2,502.4 594.1,502.2 594.7,503.5 C595.3,504.8 595.2,505.2 595.9,511.9 C596.6,518.6 596.5,521.1 597.2,528.8 C597.9,536.5 597.8,536.1 598.6,540.6 C599.4,545.1 599.3,543.9 600.2,545.7 C601.1,547.5 601.0,547.9 601.9,547.4 C602.8,546.9 602.8,546.7 603.6,544.0 C604.4,541.3 604.1,540.7 604.8,537.3 C605.5,533.9 605.5,533.2 606.2,531.4 C606.9,529.6 606.6,529.4 607.3,530.5 C608.0,531.6 608.0,532.5 608.7,535.6 C609.4,538.7 609.1,539.8 609.9,542.3 C610.7,544.8 610.7,543.5 611.6,544.9 C612.5,546.3 612.5,544.0 613.2,547.4 C613.9,550.8 613.7,550.8 614.4,557.5 C615.1,564.2 615.1,565.0 615.8,572.7 C616.5,580.4 616.5,586.7 617.1,586.2 C617.7,585.7 617.6,578.0 618.0,571.0 C618.4,564.0 618.4,562.9 618.5,560.0" fill="none" stroke="#111" stroke-width="1.05" stroke-linejoin="round"/>
<!-- small markers -->
<g fill="none" stroke="#000" stroke-width="1">
<circle cx="322" cy="28.8" r="2.1"/><circle cx="322" cy="601.4" r="2.1"/><circle cx="4.4" cy="601.4" r="2.1"/><circle cx="4.4" cy="307" r="2.1"/>
</g>
<g opacity="0.999">
<text x="333.2" y="11.9" text-anchor="middle" class="ttl">GD358 1990 and 2000 FTs</text>
<text x="125.6" y="629.6" text-anchor="middle" class="tl">1200</text><text x="237.7" y="629.6" text-anchor="middle" class="tl">1220</text><text x="349.8" y="629.6" text-anchor="middle" class="tl">1240</text><text x="461.9" y="629.6" text-anchor="middle" class="tl">1260</text><text x="574.0" y="629.6" text-anchor="middle" class="tl">1280</text>
<text x="50.5" y="597.4" text-anchor="end" class="tl">0</text><text x="50.5" y="442.5" text-anchor="end" class="tl">5</text><text x="50.5" y="287.6" text-anchor="end" class="tl">10</text><text x="50.5" y="132.7" text-anchor="end" class="tl">15</text>
<text class="ser" font-size="15.5" word-spacing="3.5" transform="translate(338.7,648.5) scale(1.175,1)" text-anchor="middle">Freq (<tspan font-style="italic">μ</tspan>Hz)</text>
<text class="ser" font-size="15.5" word-spacing="3.5" transform="translate(21.9,318.2) rotate(-90) scale(1.175,1)" text-anchor="middle">Amp (mma)</text>
<text class="ser" font-size="9" font-weight="bold" transform="translate(436,123.9) rotate(-90) scale(1.23,1)">1255 μHz</text>
<text class="ser" font-size="9" font-weight="bold" transform="translate(312.6,401.9) rotate(-90) scale(1.22,1)">1233 μHz</text>
<text class="ser" font-size="6.6" font-weight="bold" transform="translate(433.8,371.8) rotate(-90)" textLength="129" lengthAdjust="spacingAndGlyphs">1255.38 μHz, 796.616s, 7.61 mma, k=15'</text>
<text class="ser" font-size="9" font-weight="bold" transform="translate(324.9,21) rotate(-90) scale(1.1,1)">18</text>
<text class="ser" font-size="9" font-weight="bold" transform="translate(7.2,299.5) rotate(-90) scale(1.1,1)">19</text>
</g>
</svg>
</body></html>
